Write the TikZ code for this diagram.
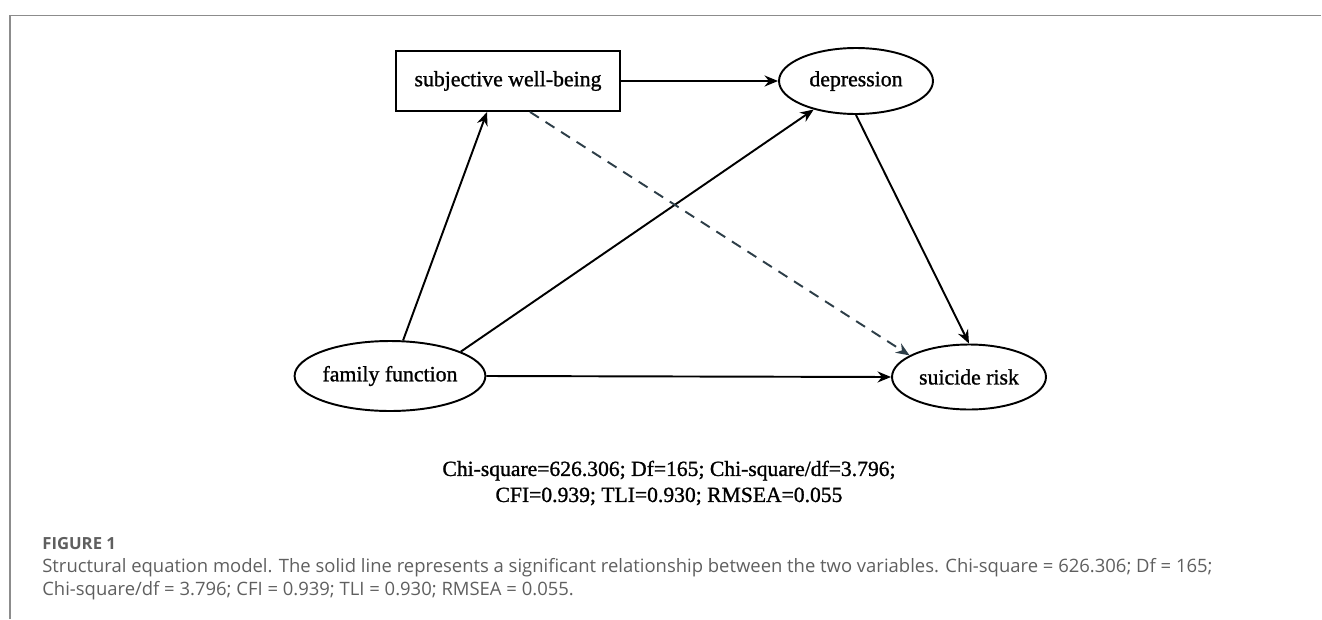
\documentclass[tikz,border=0pt]{standalone}
\usepackage{fontspec}
\setmainfont{Liberation Serif}[BoldFont=Liberation Serif, BoldFeatures={FakeBold=1.1}]
\newfontfamily\capfont{Open Sans}
\usetikzlibrary{arrows.meta,positioning,shapes.geometric,calc}
\definecolor{framegray}{RGB}{140,140,140}
\definecolor{capgray}{RGB}{95,95,95}
\definecolor{dashslate}{RGB}{45,62,72}

\begin{document}
\begin{tikzpicture}[
  x=0.02cm, y=-0.02cm,
  obs/.style={rectangle, draw, line width=1.1pt, inner sep=0pt,
    minimum width=4.48cm, minimum height=1.2cm, font=\fontsize{12.4}{14}\selectfont\bfseries},
  lat/.style={ellipse, draw, line width=1.1pt, inner sep=0pt,
    font=\fontsize{12.4}{14}\selectfont\bfseries},
  arrow/.style={-{Stealth[length=2.7mm,width=2.2mm]}, line width=1.1pt},
  nsarrow/.style={arrow, draw=dashslate, dash pattern=on 6pt off 4.5pt},
]
\useasboundingbox (0,0) rectangle (1322,619);

% page frame
\draw[framegray, line width=1.1pt] (10,619) -- (10,15.5) -- (1321,15.5);

\node[obs] (swb) at (508,81) {subjective well-being};
\node[lat, minimum width=3.08cm, minimum height=1.32cm] (dep) at (856,81) {depression};
\node[lat, minimum width=3.72cm, minimum height=1.4cm] (fam) at (390,376) {family function};
\node[lat, minimum width=3.08cm, minimum height=1.3cm] (sui) at (969,377) {suicide risk};

% Arrows
\foreach \i/\j in {swb.east/dep.west, fam.east/sui.west, dep.south/sui.north, fam.19/dep.214} {
  \draw[arrow] (\i) -- (\j);
}
\draw[arrow] (fam) -- ($(swb.south)+(-21,0)$);
\draw[nsarrow] ($(swb.south)+(22,0)$) -- (sui.160);

% Fit indices
\node[align=center, font=\fontsize{12.3}{14.8}\selectfont\bfseries] (fit) at (669,483)
  {Chi-square=626.306; Df=165; Chi-square/df=3.796;\\ CFI=0.939; TLI=0.930; RMSEA=0.055};

% Caption
\node[anchor=west, inner sep=0pt, text=capgray, font=\capfont\fontsize{9.5}{10}\selectfont\bfseries] (figlabel) at (42,544) {FIGURE 1};
\node[anchor=north west, align=left, inner sep=0pt, text=capgray,
  font=\capfont\fontsize{10.5}{13.1}\selectfont] (caption) at (42,558)
  {Structural equation model. The solid line represents a significant relationship between the two variables. Chi-square = 626.306; Df = 165;\\
   Chi-square/df = 3.796; CFI = 0.939; TLI = 0.930; RMSEA = 0.055.};

\end{tikzpicture}
\end{document}
